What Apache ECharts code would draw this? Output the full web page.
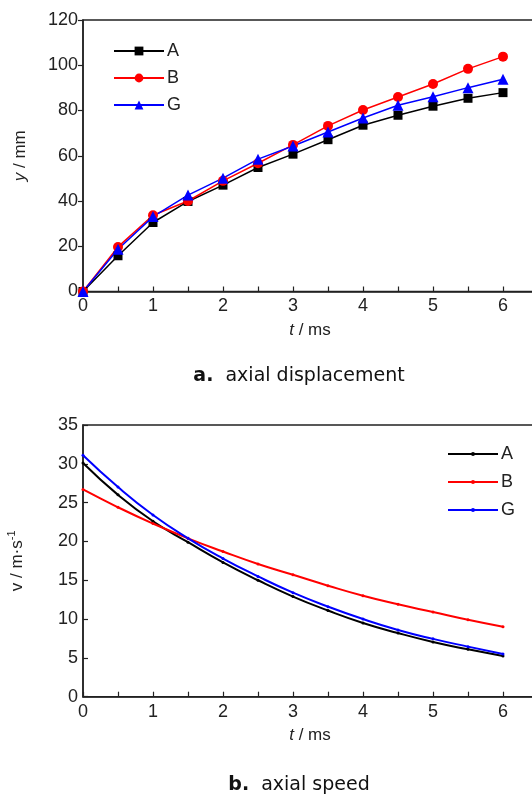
<!DOCTYPE html>
<html>
<head>
<meta charset="utf-8">
<script src="https://cdn.jsdelivr.net/npm/echarts@6/dist/echarts.min.js"></script>
<style>
html,body{margin:0;padding:0;background:#fff;}
#c{width:532px;height:796px;}
</style>
</head>
<body>
<div id="c"></div>
<script>
// ---- data ----
var tValues = [0, 0.5, 1, 1.5, 2, 2.5, 3, 3.5, 4, 4.5, 5, 5.5, 6];
// (a) axial displacement, mm
var dispA = [0, 15.8, 30.5, 39.8, 47.0, 54.8, 60.7, 67.1, 73.5, 77.9, 81.9, 85.4, 87.9];
var dispB = [0, 19.7, 33.7, 40.0, 48.9, 56.7, 64.8, 73.2, 80.2, 86.0, 91.7, 98.4, 103.8];
var dispG = [0, 18.7, 33.1, 42.6, 50.1, 58.5, 64.3, 70.5, 76.7, 82.3, 86.1, 90.1, 93.8];
// (b) axial speed, m/s
var speedA = [30.1, 26.0, 22.6, 19.9, 17.3, 15.0, 12.9, 11.1, 9.5, 8.2, 7.05, 6.1, 5.25];
var speedB = [26.7, 24.4, 22.3, 20.4, 18.7, 17.1, 15.7, 14.3, 13.0, 11.9, 10.9, 9.9, 9.0];
var speedG = [31.1, 27.0, 23.4, 20.4, 17.8, 15.5, 13.4, 11.6, 10.0, 8.6, 7.45, 6.45, 5.5];
var seriesNames = ['A', 'B', 'G'];
var seriesColors = ['#000000', '#ff0000', '#0000ff'];
var xTickLabels = ['0', '1', '2', '3', '4', '5', '6'];
var captionA = ['a.', 'axial displacement'];
var captionB = ['b.', 'axial speed'];

function pairs(ys) { return tValues.map(function (t, i) { return [t, ys[i]]; }); }

var FONT = "'Liberation Sans', Arial, sans-serif";
var CAPFONT = "'DejaVu Sans', 'Open Sans', sans-serif";
var axisCol = '#222';

function xAxisDef(gridIndex) {
  return {
    type: 'value', gridIndex: gridIndex, min: 0, max: 7, interval: 0.5,
    name: '{i|t} / ms', nameLocation: 'middle', nameGap: 30,
    nameTextStyle: { fontFamily: FONT, fontSize: 17, color: '#222', padding: [0, 36, 0, 0],
      rich: { i: { fontFamily: FONT, fontStyle: 'italic', fontSize: 17, color: '#222' } } },
    axisLine: { show: true, lineStyle: { color: axisCol, width: 1.5 } },
    axisTick: { show: true, inside: true, length: 5, lineStyle: { color: axisCol, width: 1.2 } },
    axisLabel: { showMaxLabel: false, fontFamily: FONT, fontSize: 18, color: '#222', margin: 6,
      formatter: function (v) { return (v % 1 === 0 && v <= 6) ? xTickLabels[v] : ''; } },
    splitLine: { show: false }
  };
}

function caption(parts, y) {
  return {
    type: 'text', x: 299, y: y,
    style: {
      textAlign: 'center', textVerticalAlign: 'middle',
      rich: {
        b: { fontFamily: CAPFONT, fontWeight: 'bold', fontSize: 19, fill: '#111' },
        n: { fontFamily: CAPFONT, fontSize: 19, fill: '#111' }
      },
      text: '{b|' + parts[0] + '}{n|  ' + parts[1] + '}'
    }
  };
}

var option = {
  animation: false,
  backgroundColor: '#fff',
  grid: [
    { left: 83, top: 20, width: 490, height: 271.5, show: true, borderColor: axisCol, borderWidth: 1.5,
      containLabel: false, outerBoundsMode: 'none' },
    { left: 83, top: 425, width: 490, height: 271.7, show: true, borderColor: axisCol, borderWidth: 1.5,
      containLabel: false, outerBoundsMode: 'none' }
  ],
  xAxis: [xAxisDef(0), xAxisDef(1)],
  yAxis: [
    {
      type: 'value', gridIndex: 0, min: 0, max: 120, interval: 20,
      name: '{i|y} / mm', nameLocation: 'middle', nameGap: 54,
      nameTextStyle: { fontFamily: FONT, fontSize: 17, color: '#222',
        rich: { i: { fontFamily: FONT, fontStyle: 'italic', fontSize: 17, color: '#222' } } },
      axisLine: { show: true, lineStyle: { color: axisCol, width: 1.5 } },
      axisTick: { show: true, inside: false, length: 5, lineStyle: { color: axisCol, width: 1.2 } },
      axisLabel: { fontFamily: FONT, fontSize: 18, color: '#222', margin: 5 },
      splitLine: { show: false }
    },
    {
      type: 'value', gridIndex: 1, min: 0, max: 35, interval: 5,
      name: 'v / m·s{sup|-1}', nameLocation: 'middle', nameGap: 54,
      nameTextStyle: { fontFamily: FONT, fontSize: 17, color: '#222',
        rich: {
          sup: { fontFamily: FONT, fontSize: 11, color: '#222', verticalAlign: 'top', padding: [0, 0, 12, 0] }
        } },
      axisLine: { show: true, lineStyle: { color: axisCol, width: 1.5 } },
      axisTick: { show: true, inside: true, length: 5, lineStyle: { color: axisCol, width: 1.2 } },
      axisLabel: { fontFamily: FONT, fontSize: 18, color: '#222', margin: 5 },
      splitLine: { show: false }
    }
  ],
  legend: [
    {
      left: 113, top: 42, padding: 0, orient: 'vertical', itemWidth: 50, itemHeight: 11, itemGap: 9,
      textStyle: { fontFamily: FONT, fontSize: 18, color: '#222', padding: [0, 0, 0, -2] },
      data: seriesNames.map(function (n) { return { name: n }; })
    },
    {
      left: 447, top: 445, padding: 0, orient: 'vertical', itemWidth: 50, itemHeight: 5, itemGap: 10,
      textStyle: { fontFamily: FONT, fontSize: 18, color: '#222', padding: [0, 0, 0, -2] },
      data: seriesNames.map(function (n) { return { name: n + ' ' }; })
    }
  ],
  series: [
    { name: 'A', type: 'line', xAxisIndex: 0, yAxisIndex: 0, data: pairs(dispA), color: seriesColors[0],
      symbol: 'rect', symbolSize: 9, lineStyle: { width: 1.5 } },
    { name: 'B', type: 'line', xAxisIndex: 0, yAxisIndex: 0, data: pairs(dispB), color: seriesColors[1],
      symbol: 'circle', symbolSize: 10, lineStyle: { width: 1.5 } },
    { name: 'G', type: 'line', xAxisIndex: 0, yAxisIndex: 0, data: pairs(dispG), color: seriesColors[2],
      symbol: 'triangle', symbolSize: 11, lineStyle: { width: 1.5 } },
    { name: 'A ', type: 'line', xAxisIndex: 1, yAxisIndex: 1, data: pairs(speedA), color: seriesColors[0],
      smooth: true, symbol: 'circle', symbolSize: 3, lineStyle: { width: 2 } },
    { name: 'B ', type: 'line', xAxisIndex: 1, yAxisIndex: 1, data: pairs(speedB), color: seriesColors[1],
      smooth: true, symbol: 'circle', symbolSize: 3, lineStyle: { width: 2 } },
    { name: 'G ', type: 'line', xAxisIndex: 1, yAxisIndex: 1, data: pairs(speedG), color: seriesColors[2],
      smooth: true, symbol: 'circle', symbolSize: 3, lineStyle: { width: 2 } }
  ],
  graphic: [caption(captionA, 376), caption(captionB, 785)]
};

var chart = echarts.init(document.getElementById('c'), null, { renderer: 'canvas' });
chart.setOption(option);
</script>
</body>
</html>
